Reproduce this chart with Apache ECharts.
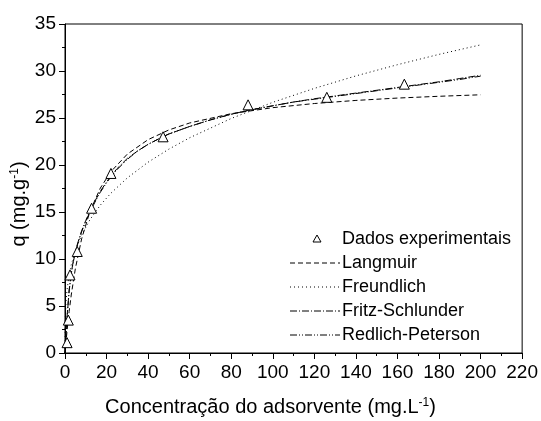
<!DOCTYPE html>
<html>
<head>
<meta charset="utf-8">
<script src="https://cdn.jsdelivr.net/npm/echarts@6/dist/echarts.min.js"></script>
<style>html,body{margin:0;padding:0;background:#fff;}#c{width:541px;height:421px;}</style>
</head>
<body>
<div id="c"></div>
<script>
// Experimental data
const expX = [1.0, 1.6, 2.4, 5.9, 12.8, 22.1, 47.2, 88.1, 126.0, 163.3];
const expY = [1.1, 3.5, 8.3, 10.8, 15.4, 19.1, 23.0, 26.4, 27.2, 28.6];

// Model curves
const langX = [0, 0.5, 1, 2, 3, 5, 8, 12, 17, 22, 30, 40, 50, 60, 80, 100, 120, 140, 160, 180, 200];
const langY = [0, 1.25, 2.39, 4.42, 6.17, 9.0, 12.14, 15.06, 17.54, 19.27, 21.16, 22.70, 23.73, 24.47, 25.46, 26.1, 26.54, 26.87, 27.12, 27.31, 27.47];

const freuX = [0, 0.2, 0.5, 1, 2, 3, 5, 8, 12, 17, 22, 30, 40, 50, 60, 80, 100, 120, 140, 160, 180, 200];
const freuY = [0, 4.18, 5.50, 6.76, 8.31, 9.38, 10.92, 12.56, 14.18, 15.73, 16.98, 18.63, 20.30, 21.69, 22.90, 24.95, 26.67, 28.15, 29.48, 30.67, 31.77, 32.78];

const fritzX = [0, 0.5, 1, 2, 3, 4, 5, 6, 8, 10, 12, 15, 17, 20, 22, 25, 30, 35, 40, 47, 50, 60, 70, 80, 88, 100, 110, 120, 130, 140, 150, 160, 170, 180, 190, 200];
const fritzY = [0, 2.1, 3.9, 6.7, 8.5, 9.8, 10.8, 11.6, 13.0, 14.1, 15.1, 16.4, 17.2, 18.2, 18.8, 19.6, 20.7, 21.5, 22.2, 23.0, 23.3, 24.1, 24.8, 25.4, 25.8, 26.3, 26.7, 27.05, 27.35, 27.65, 27.95, 28.25, 28.55, 28.85, 29.2, 29.55];

const redX = [0, 0.5, 1, 2, 3, 4, 5, 6, 8, 10, 12, 15, 17, 20, 22, 25, 30, 35, 40, 47, 50, 60, 70, 80, 88, 100, 110, 120, 130, 140, 150, 160, 170, 180, 190, 200];
const redY = [0, 2.0, 3.8, 6.6, 8.4, 9.7, 10.7, 11.5, 12.9, 14.0, 15.0, 16.3, 17.1, 18.1, 18.7, 19.5, 20.6, 21.5, 22.2, 23.0, 23.3, 24.1, 24.8, 25.4, 25.8, 26.3, 26.7, 27.0, 27.3, 27.6, 27.9, 28.2, 28.5, 28.8, 29.1, 29.45];

const xTicks = [0, 220, 20];
const yTicks = [0, 35, 5];
const legendNames = ['Dados experimentais', 'Langmuir', 'Freundlich', 'Fritz-Schlunder', 'Redlich-Peterson'];

const zip = (xs, ys) => xs.map((x, i) => [x, ys[i]]);
const FONT = "'Liberation Sans', Arial, sans-serif";
const DASHES = [null, [5, 3], [1, 3], [7, 2, 1, 2], [7, 2, 1, 2, 1, 2]];

const chart = echarts.init(document.getElementById('c'), null, {renderer: 'canvas'});
const lineSeries = (name, xs, ys, dash) => ({
  name, type: 'line', data: zip(xs, ys), symbol: 'none', showSymbol: false,
  lineStyle: {color: '#000', width: 1, type: dash}, itemStyle: {color: '#000'},
  animation: false, z: 2
});

// Legend drawn as graphic elements
const LX = 290, LY = 239, LSTEP = 24;
const legendGraphics = [];
legendNames.forEach((name, i) => {
  const y = LY + i * LSTEP;
  if (i === 0) {
    legendGraphics.push({type: 'polygon', shape: {points: [[317, y - 4], [321, y + 3], [313, y + 3]]},
      style: {fill: '#fff', stroke: '#000', lineWidth: 1}});
  } else {
    legendGraphics.push({type: 'line', shape: {x1: LX, y1: y, x2: LX + 50, y2: y},
      style: {stroke: '#000', lineWidth: 1, lineDash: DASHES[i]}});
  }
  legendGraphics.push({type: 'text', x: 342, y: y,
    style: {text: name, fill: '#000', font: '18px ' + FONT, align: 'left', verticalAlign: 'middle'}});
});

chart.setOption({
  animation: false,
  backgroundColor: '#fff',
  grid: {left: 65, right: 18, top: 24, bottom: 68, show: true, borderColor: '#000', borderWidth: 1, backgroundColor: 'transparent'},
  xAxis: {
    type: 'value', min: xTicks[0], max: xTicks[1], interval: xTicks[2],
    axisLine: {show: true, onZero: false, lineStyle: {color: '#000', width: 1}},
    axisTick: {show: true, inside: false, length: 6, lineStyle: {color: '#000'}},
    minorTick: {show: true, splitNumber: 2, length: 3, lineStyle: {color: '#000'}},
    splitLine: {show: false},
    axisLabel: {color: '#000', fontSize: 19, fontFamily: FONT, margin: 10}
  },
  yAxis: {
    type: 'value', min: yTicks[0], max: yTicks[1], interval: yTicks[2],
    axisLine: {show: true, onZero: false, lineStyle: {color: '#000', width: 1}},
    axisTick: {show: true, inside: false, length: 6, lineStyle: {color: '#000'}},
    minorTick: {show: true, splitNumber: 2, length: 3, lineStyle: {color: '#000'}},
    splitLine: {show: false},
    axisLabel: {color: '#000', fontSize: 19, fontFamily: FONT, margin: 9}
  },
  graphic: [
    {type: 'text', left: 'center', x: 0, top: 397,
     style: {text: 'Concentração do adsorvente (mg.L{s|-1})', fill: '#000', font: '20px ' + FONT,
       rich: {s: {fontSize: 12, fontFamily: FONT, verticalAlign: 'top', fill: '#000'}}}},
    {type: 'text', x: 19, y: 204, rotation: Math.PI / 2,
     style: {text: 'q (mg.g{s|-1})', fill: '#000', font: '20px ' + FONT, align: 'center', verticalAlign: 'middle',
       rich: {s: {fontSize: 12, fontFamily: FONT, verticalAlign: 'top', fill: '#000'}}}}
  ].concat(legendGraphics),
  series: [
    {name: 'Dados experimentais', type: 'scatter', data: zip(expX, expY), symbol: 'triangle', symbolSize: 10,
     itemStyle: {color: '#fff', borderColor: '#000', borderWidth: 1, opacity: 1}, z: 5},
    lineSeries('Langmuir', langX, langY, DASHES[1]),
    lineSeries('Freundlich', freuX, freuY, DASHES[2]),
    lineSeries('Fritz-Schlunder', fritzX, fritzY, DASHES[3]),
    lineSeries('Redlich-Peterson', redX, redY, DASHES[4])
  ]
});
</script>
</body>
</html>
